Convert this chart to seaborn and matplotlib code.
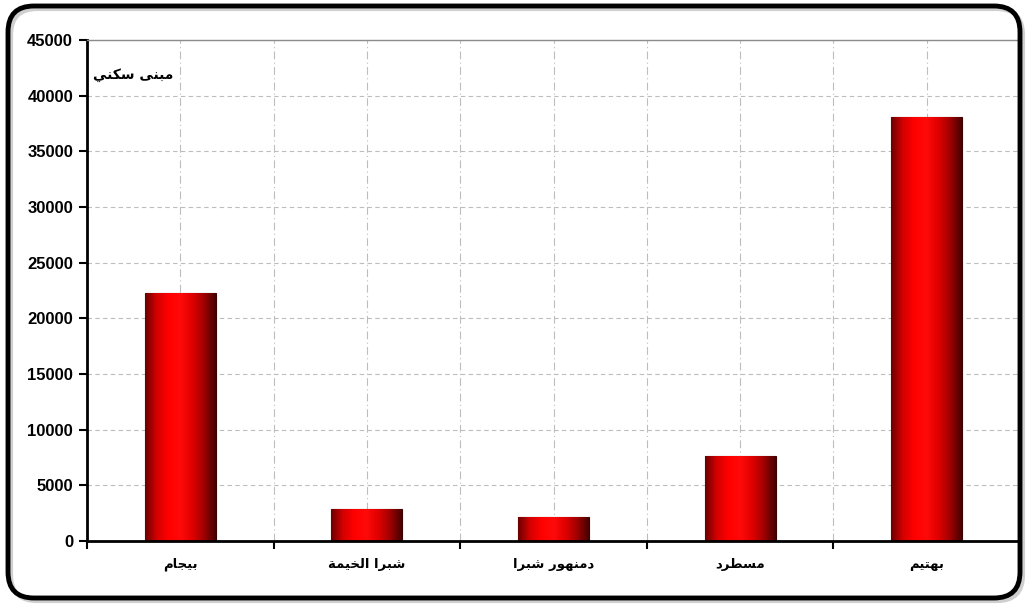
import numpy as np
import matplotlib
matplotlib.use("Agg")
import matplotlib.pyplot as plt
import seaborn as sns
import pandas as pd
from matplotlib.colors import LinearSegmentedColormap
from matplotlib.patches import FancyBboxPatch
from matplotlib.transforms import IdentityTransform

# data (left to right)
areas = ["بيجام", "شبرا الخيمة", "دمنهور شبرا", "مسطرد", "بهتيم"]
buildings = [22300, 2850, 2150, 7600, 38100]
y_ticks = [0, 5000, 10000, 15000, 20000, 25000, 30000, 35000, 40000, 45000]
series_label = "مبنى سكني"


# small arabic shaper: matplotlib has no shaping / bidi, so pick the
# contextual presentation forms by hand and reverse into visual order
FORMS = {
    "ا": (0xFE8D, 0xFE8E, None, None), "ب": (0xFE8F, 0xFE90, 0xFE91, 0xFE92),
    "ة": (0xFE93, 0xFE94, None, None), "ت": (0xFE95, 0xFE96, 0xFE97, 0xFE98),
    "ج": (0xFE9D, 0xFE9E, 0xFE9F, 0xFEA0), "خ": (0xFEA5, 0xFEA6, 0xFEA7, 0xFEA8),
    "د": (0xFEA9, 0xFEAA, None, None), "ر": (0xFEAD, 0xFEAE, None, None),
    "س": (0xFEB1, 0xFEB2, 0xFEB3, 0xFEB4), "ش": (0xFEB5, 0xFEB6, 0xFEB7, 0xFEB8),
    "ط": (0xFEC1, 0xFEC2, 0xFEC3, 0xFEC4), "ك": (0xFED9, 0xFEDA, 0xFEDB, 0xFEDC),
    "ل": (0xFEDD, 0xFEDE, 0xFEDF, 0xFEE0), "م": (0xFEE1, 0xFEE2, 0xFEE3, 0xFEE4),
    "ن": (0xFEE5, 0xFEE6, 0xFEE7, 0xFEE8), "ه": (0xFEE9, 0xFEEA, 0xFEEB, 0xFEEC),
    "و": (0xFEED, 0xFEEE, None, None), "ى": (0xFEEF, 0xFEF0, 0xFBE8, 0xFBE9),
    "ي": (0xFEF1, 0xFEF2, 0xFEF3, 0xFEF4),
}


def shape(txt):
    out = []
    for i, ch in enumerate(txt):
        if ch not in FORMS:
            out.append(ch)
            continue
        prev = txt[i - 1] if i > 0 else ""
        nxt = txt[i + 1] if i < len(txt) - 1 else ""
        f = FORMS[ch]
        join_prev = prev in FORMS and FORMS[prev][2] is not None
        join_next = f[2] is not None and nxt in FORMS
        if join_prev and join_next:
            code = f[3]
        elif join_prev:
            code = f[1]
        elif join_next:
            code = f[2]
        else:
            code = f[0]
        out.append(chr(code))
    return "".join(out)[::-1]


df = pd.DataFrame({"area": areas, "count": buildings})

fig = plt.figure(figsize=(10.28, 6.06), dpi=100)
ax = fig.add_axes([87 / 1028, 1 - 541 / 606, 933 / 1028, 501 / 606])

sns.barplot(data=df, x="area", y="count", color="#ff0000", width=0.38,
            saturation=1, edgecolor="#3a0000", linewidth=0.8, ax=ax)

# cylinder-like horizontal shading on each bar
grad = LinearSegmentedColormap.from_list(
    "cyl", ["#6a0000", "#d40000", "#ff0000", "#ff0a0a", "#e00000", "#a00000", "#450000"])
shade = np.linspace(0, 1, 256).reshape(1, -1)
for p in ax.patches:
    x0, y0 = p.get_x(), p.get_y()
    im = ax.imshow(shade, cmap=grad, aspect="auto", interpolation="bicubic",
                   extent=[x0, x0 + p.get_width(), y0, y0 + p.get_height()],
                   zorder=p.get_zorder() + 0.1)
    im.set_clip_path(p)

ax.set_xlim(-0.5, len(areas) - 0.5)
ax.set_ylim(0, 45000)
ax.set_yticks(y_ticks)
ax.set_yticklabels([str(v) for v in y_ticks], fontsize=12, fontweight="bold",
                   family="Liberation Sans")

centers = np.arange(len(areas))
ax.set_xticks(np.arange(len(areas) + 1) - 0.5)
ax.set_xticklabels([])
ax.set_xticks(centers, minor=True)
ax.set_xticklabels([shape(a) for a in areas], minor=True, fontsize=9.5,
                   fontweight="bold", family="DejaVu Sans")
ax.tick_params(axis="x", which="minor", length=0, pad=12)
ax.tick_params(axis="x", which="major", length=6, width=1.5, direction="out")
ax.tick_params(axis="y", length=6, width=1.5, direction="out", pad=4)
ax.set_xlabel("")
ax.set_ylabel("")

ax.set_axisbelow(True)
ax.yaxis.grid(True, linestyle=(0, (4, 3)), color="#bdbdbd", linewidth=0.8)
ax.xaxis.grid(True, which="both", linestyle=(0, (7, 3, 1, 3)), color="#bdbdbd",
              linewidth=0.8)

for side in ["left", "bottom"]:
    ax.spines[side].set_color("black")
    ax.spines[side].set_linewidth(2)
for side in ["top", "right"]:
    ax.spines[side].set_color("#8c8c8c")
    ax.spines[side].set_linewidth(1)

ax.text(0.006, 0.93, shape(series_label), transform=ax.transAxes, fontsize=10,
        fontweight="bold", family="DejaVu Sans", ha="left", va="center")

# rounded frame round the whole picture, with a soft shadow
shadow = FancyBboxPatch((11, 5), 1012, 592, boxstyle="round,pad=0,rounding_size=26",
                        transform=IdentityTransform(), facecolor="none",
                        edgecolor="#cfcfcf", linewidth=3, zorder=9)
fig.add_artist(shadow)
frame = FancyBboxPatch((8, 8), 1012, 592, boxstyle="round,pad=0,rounding_size=26",
                       transform=IdentityTransform(), facecolor="none",
                       edgecolor="black", linewidth=3.5, zorder=10)
fig.add_artist(frame)

fig.savefig("out.png", dpi=100)
